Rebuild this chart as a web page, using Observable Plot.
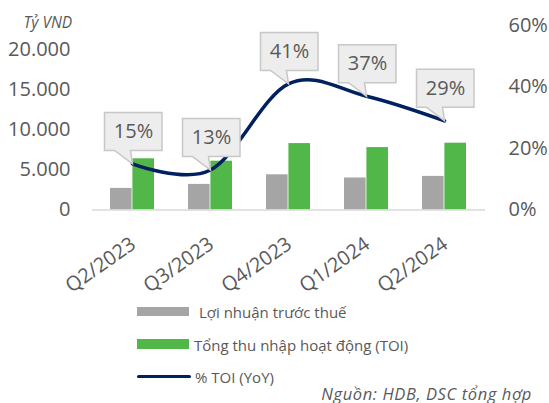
<!DOCTYPE html>
<html>
<head>
<meta charset="utf-8">
<script src="https://cdn.jsdelivr.net/npm/d3@7"></script>
<script src="https://cdn.jsdelivr.net/npm/@observablehq/plot@0.6"></script>
<style>
  html, body { margin: 0; padding: 0; background: #fff; }
  #wrap { position: relative; width: 549px; height: 403px; font-family: "Open Sans", sans-serif; color: #595959; overflow: hidden; }
  #legend { position: relative; width: 549px; height: 108px; }
  .sw { position: absolute; }
  .lt { position: absolute; font-size: 15px; line-height: 1; transform: translateY(-50%); white-space: nowrap; }
  .src { position: absolute; right: 17px; font-size: 16.5px; letter-spacing: 0.6px; font-style: italic; transform: translateY(-50%); white-space: nowrap; line-height: 1; }
</style>
</head>
<body>
<div id="wrap">
  <div id="chart"></div>
  <div id="legend"></div>
</div>
<script>
const quarters = ["Q2/2023", "Q3/2023", "Q4/2023", "Q1/2024", "Q2/2024"];
const profit = [2700, 3200, 4400, 4000, 4200];        // Lợi nhuận trước thuế (tỷ VND)
const toi = [6400, 6100, 8300, 7800, 8350];            // Tổng thu nhập hoạt động (tỷ VND)
const toiYoY = [15, 13, 41, 37, 29];                   // % TOI (YoY)
const leftTicks = [0, 5000, 10000, 15000, 20000];
const rightTicks = [0, 20, 40, 60];
const seriesNames = ["Lợi nhuận trước thuế", "Tổng thu nhập hoạt động (TOI)", "% TOI (YoY)"];
const colors = ["#a5a5a5", "#51b749", "#002060"];

const YMAX = 23060;            // left-axis value at the top of the plot frame
const PMAX = 60;               // right-axis value at the top of the plot frame
const pct = p => p / PMAX * YMAX;

const rows = quarters.map((q, i) => ({q, profit: profit[i], toi: toi[i], yoy: toiYoY[i]}));

const callout = {
  draw(ctx) {
    ctx.moveTo(-28, -51.5);
    ctx.lineTo(29.5, -51.5);
    ctx.lineTo(29.5, -13.5);
    ctx.lineTo(-2, -13.5);
    ctx.lineTo(0, 0);
    ctx.lineTo(-18, -13.5);
    ctx.lineTo(-28, -13.5);
    ctx.closePath();
  }
};

const fmtThousands = d => d3.format(",")(d).replace(/,/g, ".");

const chart = Plot.plot({
  width: 549,
  height: 295,
  marginLeft: 92,
  marginRight: 64,
  marginTop: 25,
  marginBottom: 85.5,
  style: {fontFamily: "'Open Sans', sans-serif", color: "#595959", fontSize: "20px", background: "transparent", overflow: "visible"},
  x: {domain: quarters, paddingInner: 0.43, paddingOuter: 0.22},
  y: {domain: [0, YMAX]},
  marks: [
    Plot.barY(rows, {x: "q", y: "profit", fill: colors[0], insetRight: 22.4}),
    Plot.barY(rows, {x: "q", y: "toi", fill: colors[1], insetLeft: 22.4}),
    Plot.ruleY([0], {stroke: "#d9d9d9", strokeWidth: 1.5}),
    Plot.line(rows, {x: "q", y: d => pct(d.yoy), stroke: colors[2], strokeWidth: 3.5, curve: "cardinal"}),
    Plot.dot(rows, {x: "q", y: d => pct(d.yoy), symbol: callout, fill: "#ededed", stroke: "#c8c8c8", strokeWidth: 1.5}),
    Plot.text(rows, {x: "q", y: d => pct(d.yoy), text: d => `${d.yoy}%`, dy: -32.5, dx: 1, fontSize: 20, fill: "#595959"}),
    Plot.axisY({ticks: leftTicks, tickFormat: fmtThousands, tickSize: 0, tickPadding: 22, fontSize: 20, label: null}),
    Plot.axisY({ticks: rightTicks.map(pct), tickFormat: d => `${Math.round(d / YMAX * PMAX)}%`, anchor: "right", tickSize: 0, tickPadding: 23, fontSize: 20, label: null}),
    Plot.axisX({tickSize: 0, tickRotate: -35, tickPadding: 32, dx: 1, fontSize: 20, label: null}),
    Plot.text(["Tỷ VND"], {frameAnchor: "top-left", text: d => d, dx: -69, dy: -9, textAnchor: "start", fontStyle: "italic", fontSize: 15.5, letterSpacing: 1.2, fill: "#595959"})
  ]
});
document.getElementById("chart").appendChild(chart);

// Legend below the SVG
const legend = document.getElementById("legend");
const items = [
  {name: seriesNames[0], color: colors[0], top: 11.7, h: 9, textLeft: 199, cy: 16.7},
  {name: seriesNames[1], color: colors[1], top: 44.3, h: 9.5, textLeft: 194, cy: 49.5},
  {name: seriesNames[2], color: colors[2], top: 79.8, h: 3.5, textLeft: 195, cy: 81.5, line: true}
];
for (const it of items) {
  const sw = document.createElement("div");
  sw.className = "sw";
  sw.style.left = "136.7px";
  sw.style.top = it.top + "px";
  sw.style.width = it.line ? "54px" : "52.5px";
  sw.style.height = it.h + "px";
  sw.style.background = it.color;
  if (it.line) sw.style.borderRadius = "2px";
  legend.appendChild(sw);
  const t = document.createElement("div");
  t.className = "lt";
  t.style.left = it.textLeft + "px";
  t.style.top = it.cy + "px";
  t.textContent = it.name;
  legend.appendChild(t);
}
const src = document.createElement("div");
src.className = "src";
src.style.top = "98.5px";
src.textContent = "Nguồn: HDB, DSC tổng hợp";
legend.appendChild(src);
</script>
</body>
</html>
